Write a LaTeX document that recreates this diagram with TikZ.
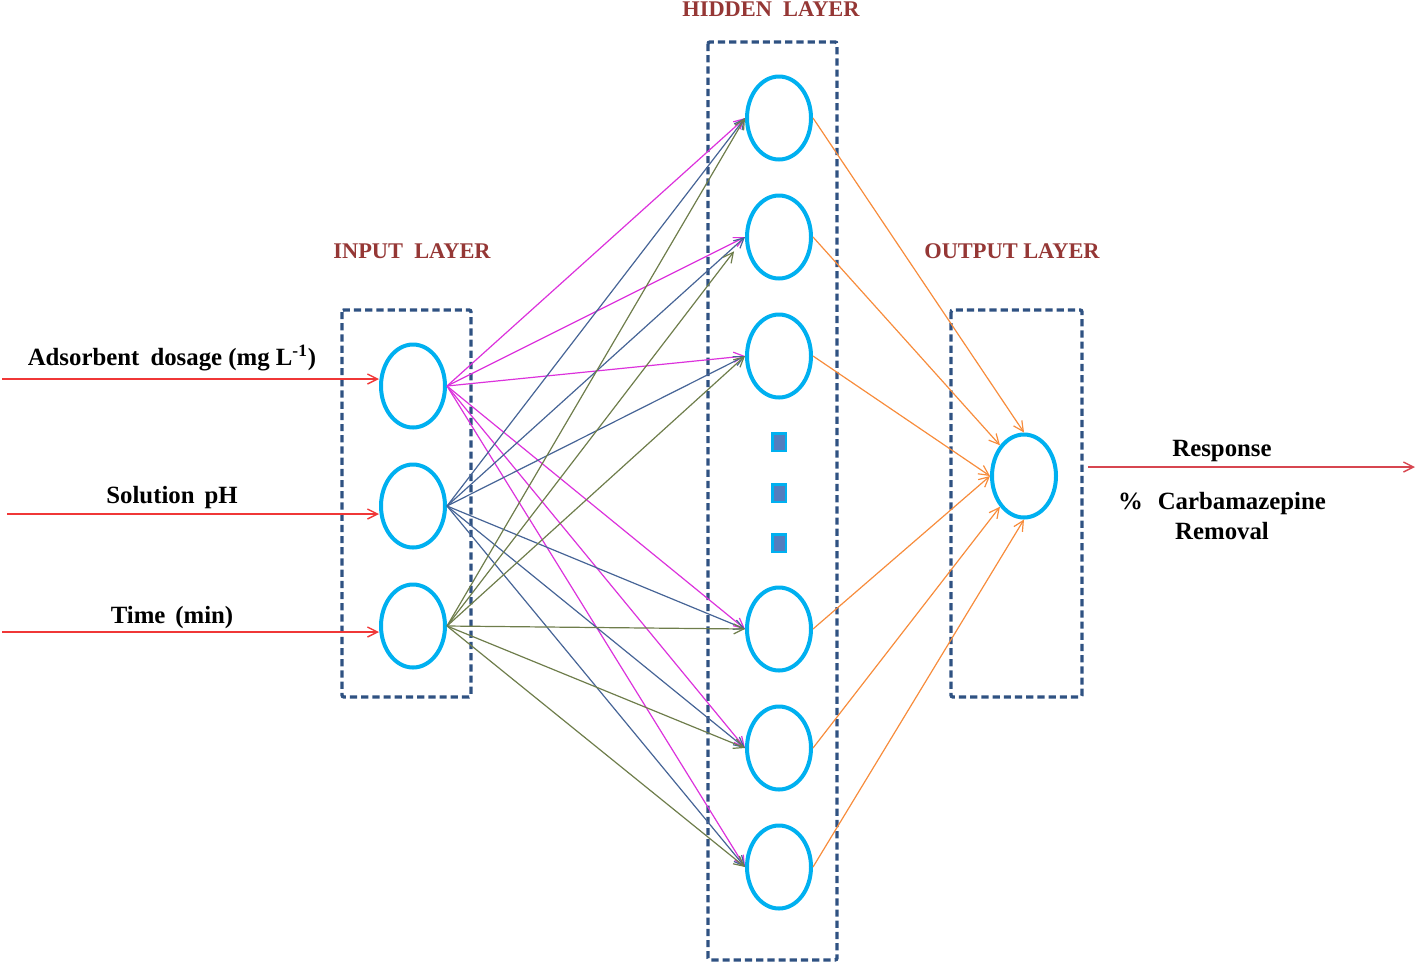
\documentclass[tikz,border=0pt]{standalone}
\usepackage{fontspec}
\setmainfont{Liberation Serif}
\usetikzlibrary{shapes.geometric,arrows.meta}
\definecolor{cyanc}{RGB}{0,176,240}
\definecolor{boxc}{RGB}{47,82,130}
\definecolor{titlec}{RGB}{149,55,53}
\definecolor{redc}{RGB}{240,55,55}
\definecolor{respc}{RGB}{215,70,80}
\definecolor{magc}{RGB}{220,50,220}
\definecolor{bluec}{RGB}{70,100,150}
\definecolor{olivec}{RGB}{110,125,75}
\definecolor{orangec}{RGB}{247,140,60}
\definecolor{sqc}{RGB}{84,125,190}
\begin{document}
\begin{tikzpicture}[x=0.5pt,y=-0.5pt,
  neuron/.style={ellipse,draw=cyanc,line width=2pt,minimum width=32pt,minimum height=41.5pt,inner sep=0pt},
  dotsq/.style={rectangle,draw=cyanc,fill=sqc,line width=1.3pt,minimum width=6.8pt,minimum height=8.8pt,inner sep=0pt},
  layerbox/.style={draw=boxc,line width=1.7pt,dash pattern=on 3.6pt off 2pt,rounded corners=1pt},
  title/.style={text=titlec,font=\fontsize{11.2}{13}\selectfont\bfseries,anchor=base,inner sep=0pt},
  lbl/.style={font=\fontsize{12.4}{15}\selectfont\bfseries,anchor=base,inner sep=0pt},
  conn/.style={line width=0.6pt,-{Straight Barb[length=5pt,width=5pt]}},
  inarrow/.style={line width=0.7pt,draw=redc,-{Straight Barb[length=5pt,width=5pt]}}]
\useasboundingbox (0,0) rectangle (1418,965);

% layer boxes
\draw[layerbox] (342,310) rectangle (471,697);
\draw[layerbox] (708,42) rectangle (837,960);
\draw[layerbox] (951,310) rectangle (1082,697);

% titles
\node[title] (tin) at (412,258) {INPUT\hspace{0.5em}LAYER};
\node[title] (thid) at (771,16) {HIDDEN\hspace{0.5em}LAYER};
\node[title] (tout) at (1012,258) {OUTPUT LAYER};

% input neurons
\node[neuron] (i1) at (413,386) {};
\node[neuron] (i2) at (413,506) {};
\node[neuron] (i3) at (413,626) {};

% hidden neurons
\node[neuron] (h1) at (779,118) {};
\node[neuron] (h2) at (779,237) {};
\node[neuron] (h3) at (779,356) {};
\node[neuron] (h4) at (779,629) {};
\node[neuron] (h5) at (779,748) {};
\node[neuron] (h6) at (779,867) {};

% dots
\node[dotsq] (d1) at (779,442) {};
\node[dotsq] (d2) at (779,493) {};
\node[dotsq] (d3) at (779,543) {};

% output neuron
\node[neuron] (o) at (1024,476) {};

% input labels and arrows
\node[lbl] (l1) at (172,365) {Adsorbent\hspace{0.45em}dosage (mg L\textsuperscript{-1})};
\node[lbl] (l2) at (172,503) {Solution\hspace{0.4em}pH};
\node[lbl] (l3) at (172,623) {Time\hspace{0.4em}(min)};
\coordinate (a1) at (2,379);
\coordinate (a2) at (7,514);
\coordinate (a3) at (2,632);
\draw[inarrow] (a1) -- (a1 -| i1.west);
\draw[inarrow] (a2) -- (a2 -| i2.west);
\draw[inarrow] (a3) -- (a3 -| i3.west);

% input -> hidden
\foreach \h in {1,...,6} \draw[conn,magc] (i1.east) -- (h\h.west);
\foreach \h in {1,...,6} \draw[conn,bluec] (i2.east) -- (h\h.west);
\foreach \h in {1,3,4,5,6} \draw[conn,olivec] (i3.east) -- (h\h.west);
\draw[conn,olivec,shorten >=9pt] (i3.east) -- (h2.west);

% hidden -> output
\draw[conn,orangec] (h1.east) -- (o.90);
\draw[conn,orangec] (h2.east) -- (o.128);
\draw[conn,orangec] (h3.east) -- (o.west);
\draw[conn,orangec] (h4.east) -- (o.west);
\draw[conn,orangec] (h5.east) -- (o.232);
\draw[conn,orangec] (h6.east) -- (o.270);

% response
\coordinate (r0) at (1088,467);
\coordinate (r1) at (1415,467);
\draw[line width=0.7pt,draw=respc,-{Straight Barb[length=5pt,width=5pt]}] (r0) -- (r1);
\node[lbl] (resp) at (1222,456) {Response};
\node[lbl] (carb) at (1222,509) {\%\hspace{0.6em}Carbamazepine};
\node[lbl] (rem) at (1222,539) {Removal};
\end{tikzpicture}
\end{document}
